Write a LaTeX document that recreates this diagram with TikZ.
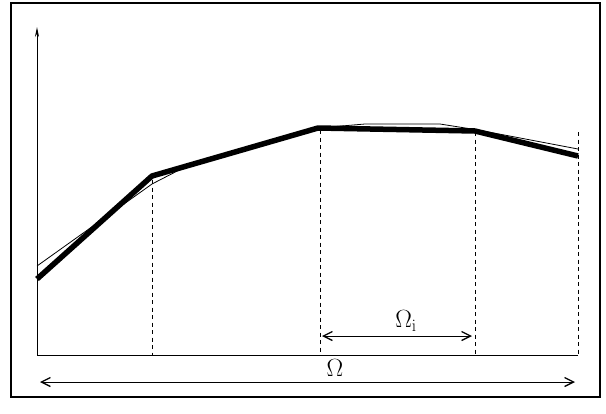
\documentclass[tikz,border=0pt]{standalone}
\usetikzlibrary{arrows.meta}

% vertical dashed separator from a point on the curve down to the x axis
\newcommand{\trenner}[3]{
    \coordinate (#1) at (#2,#3);
    \coordinate (#1u) at (#2,355);
    \draw[trennlinie] (#1) -- (#1u);
}

\tikzset{
  trennlinie/.style={line width=0.8pt, dash pattern=on 4pt off 3.5pt},
  bereich/.style={line width=0.9pt, {Straight Barb[length=9pt,width=9pt,line width=1.3pt]}-{Straight Barb[length=9pt,width=9pt,line width=1.3pt]}},
  beschriftung/.style={font=\fontsize{27}{32}\selectfont, inner sep=0pt}
}

\begin{document}
\begin{tikzpicture}[x=1pt, y=-1pt]
  \useasboundingbox (0,0) rectangle (606,413);
  \draw[line width=1.2pt] (11,3) rectangle (600,397);

  % axes
  \coordinate (ursprung) at (37,355);
  \coordinate (yspitze) at (37,27);
  \coordinate (xende) at (578,355);
  \draw[line width=0.9pt, -{Stealth[length=10pt,width=4pt]}] (ursprung) -- (yspitze);
  \draw[line width=0.9pt] (ursprung) -- (xende);

  % (name, x, top)
  \trenner{t1}{152}{180}
  \trenner{t2}{320}{130}
  \trenner{t3}{475}{132}
  \trenner{t4}{578}{132}

  % thin approximation
  \draw[line width=0.8pt] (37,266) -- (152,184) -- (185,167) -- (318,128) -- (365,124)
    -- (440,124) -- (478,130) -- (578,149);

  % thick curve
  \coordinate (p0) at (37,279);
  \coordinate (p1) at (152,176);
  \coordinate (p2) at (318,128);
  \coordinate (p3) at (475,131);
  \coordinate (p4) at (578,156);
  \draw[line width=5.5pt, line join=round] (p0) -- (p1) -- (p2) -- (p3) -- (p4);

  % subdomain and domain
  \coordinate (oia) at (322,336);
  \coordinate (oib) at (472,336);
  \draw[bereich] (oia) -- (oib);
  \node[beschriftung] (omegai) at (406,321) {$\Omega_{\mathrm{i}}$};

  \coordinate (oa) at (40,382);
  \coordinate (ob) at (575,382);
  \draw[bereich] (oa) -- (ob);
  \node[beschriftung] (omega) at (335,368) {$\Omega$};
\end{tikzpicture}
\end{document}
